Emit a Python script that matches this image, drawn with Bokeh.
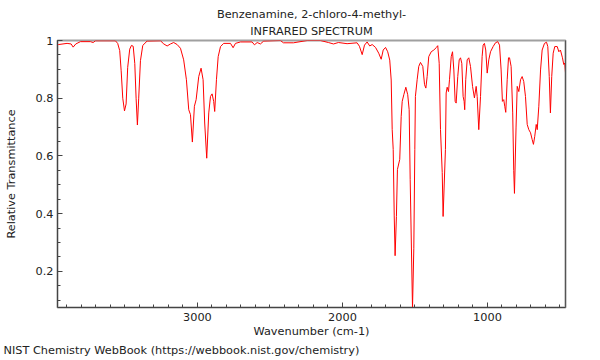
from bokeh.plotting import figure
from bokeh.models import Range1d, FixedTicker, LinearAxis, Title
from bokeh.embed import file_html
from bokeh.resources import INLINE

title_line1 = "Benzenamine, 2-chloro-4-methyl-"
title_line2 = "INFRARED SPECTRUM"
x_label = "Wavenumber (cm-1)"
y_label = "Relative Transmittance"
footer = "NIST Chemistry WebBook (https://webbook.nist.gov/chemistry)"

x_major_ticks = [1000, 2000, 3000]
y_major_ticks = [0.2, 0.4, 0.6, 0.8, 1.0]
y_tick_labels = {0.2: "0.2", 0.4: "0.4", 0.6: "0.6", 0.8: "0.8", 1.0: "1"}

wavenumber = [3965, 3957, 3899, 3871, 3857, 3839, 3807, 3738, 3719, 3703, 3566, 3550, 3536, 3526,
              3515, 3503, 3492, 3481, 3467, 3455, 3443, 3432, 3423, 3414, 3405, 3393, 3377, 3347,
              3255, 3232, 3209, 3186, 3164, 3140, 3117, 3095, 3076, 3060, 3048, 3035, 3021, 3009,
              2991, 2975, 2961, 2950, 2936, 2922, 2910, 2899, 2888, 2881, 2869, 2857, 2841, 2819,
              2772, 2754, 2738, 2703, 2623, 2607, 2588, 2566, 2543, 2428, 2407, 2338, 2243, 2152,
              2097, 2062, 2028, 1968, 1899, 1883, 1864, 1848, 1830, 1812, 1795, 1772, 1750, 1733,
              1719, 1703, 1688, 1674, 1664, 1657, 1650, 1643, 1637, 1628, 1621, 1605, 1595, 1588,
              1577, 1563, 1550, 1540, 1533, 1517, 1508, 1501, 1497, 1485, 1474, 1462, 1446, 1434,
              1425, 1416, 1405, 1388, 1370, 1352, 1343, 1333, 1324, 1312, 1306, 1290, 1285, 1278,
              1269, 1262, 1250, 1241, 1232, 1223, 1216, 1205, 1195, 1186, 1177, 1168, 1161, 1157,
              1150, 1140, 1129, 1117, 1103, 1090, 1078, 1071, 1060, 1048, 1037, 1030, 1021, 1012,
              1002, 991, 979, 961, 945, 929, 917, 906, 897, 888, 881, 874, 864, 855,
              848, 837, 826, 819, 814, 803, 795, 784, 772, 761, 750, 738, 726, 715,
              703, 692, 683, 674, 664, 657, 646, 634, 623, 607, 593, 584, 574, 566,
              557, 547, 536, 519, 508, 497, 483, 474, 467, 460]

transmittance = [0.986, 0.986, 0.99, 0.988, 0.977, 0.988, 0.996, 0.996, 0.993, 0.999, 0.999, 0.99, 0.965, 0.895,
                 0.80, 0.756, 0.78, 0.907, 0.97, 0.983, 0.98, 0.92, 0.80, 0.707, 0.80, 0.93, 0.983, 0.998,
                 0.999, 0.988, 0.981, 0.988, 0.993, 0.986, 0.973, 0.933, 0.864, 0.76, 0.743, 0.648, 0.772, 0.795,
                 0.875, 0.904, 0.864, 0.714, 0.592, 0.749, 0.806, 0.815, 0.789, 0.754, 0.864, 0.944, 0.979, 0.99,
                 0.99, 0.975, 0.99, 0.995, 0.995, 0.985, 0.993, 0.988, 0.998, 1.0, 0.992, 0.992, 1.0, 1.0,
                 0.993, 0.988, 0.993, 0.989, 0.992, 0.98, 0.951, 0.984, 0.995, 0.981, 0.986, 0.976, 0.956, 0.935,
                 0.967, 0.976, 0.961, 0.932, 0.863, 0.691, 0.622, 0.392, 0.254, 0.39, 0.553, 0.588, 0.737, 0.789,
                 0.812, 0.838, 0.812, 0.76, 0.519, 0.072, 0.278, 0.622, 0.806, 0.864, 0.91, 0.924, 0.91, 0.847,
                 0.835, 0.875, 0.944, 0.961, 0.967, 0.976, 0.982, 0.921, 0.691, 0.542, 0.39, 0.622, 0.818, 0.838,
                 0.823, 0.864, 0.944, 0.961, 0.898, 0.789, 0.783, 0.875, 0.933, 0.94, 0.921, 0.806, 0.789, 0.76,
                 0.864, 0.933, 0.94, 0.91, 0.841, 0.801, 0.841, 0.806, 0.691, 0.806, 0.944, 0.984, 0.99, 0.967,
                 0.887, 0.933, 0.961, 0.979, 0.992, 0.996, 0.984, 0.898, 0.789, 0.795, 0.772, 0.751, 0.864, 0.94,
                 0.94, 0.91, 0.749, 0.55, 0.47, 0.70, 0.841, 0.823, 0.864, 0.875, 0.858, 0.806, 0.709, 0.691,
                 0.68, 0.657, 0.64, 0.668, 0.709, 0.691, 0.772, 0.898, 0.967, 0.99, 0.994, 0.979, 0.875, 0.749,
                 0.875, 0.956, 0.979, 0.979, 0.961, 0.967, 0.94, 0.917, 0.922, 0.875]

FONT = "DejaVu Sans"
FS = "11.3px"
TXT = "#222222"
W, H = 600, 360
ML, MR, MT, MB = 57, 35, 40, 53

p = figure(width=W, height=H, output_backend="svg", toolbar_location=None,
           x_range=Range1d(3965, 462), y_range=Range1d(0.0745, 1.0),
           x_axis_location=None, y_axis_location=None, title_location=None,
           min_border_left=ML, min_border_right=MR, min_border_top=MT, min_border_bottom=MB)
p.grid.visible = False
p.outline_line_color = "#a0a0a0"
p.outline_line_width = 2
p.background_fill_color = "white"
p.border_fill_color = "white"

AX = "#444444"
xa = LinearAxis(ticker=FixedTicker(ticks=x_major_ticks, minor_ticks=list(range(500, 4000, 100))),
                axis_label=x_label)
ya = LinearAxis(ticker=FixedTicker(ticks=y_major_ticks,
                                   minor_ticks=[round(0.05 * i, 2) for i in range(1, 21)]),
                major_label_overrides=y_tick_labels, axis_label=y_label)
for ax in (xa, ya):
    ax.axis_line_color = AX
    ax.major_tick_line_color = AX
    ax.minor_tick_line_color = AX
    ax.major_tick_in = 5
    ax.major_tick_out = 0
    ax.minor_tick_in = 3
    ax.minor_tick_out = 0
    ax.major_label_text_font = FONT
    ax.major_label_text_font_size = FS
    ax.major_label_text_color = TXT
    ax.major_label_standoff = 5
    ax.axis_label_text_font = FONT
    ax.axis_label_text_font_size = FS
    ax.axis_label_text_font_style = "normal"
    ax.axis_label_text_color = TXT
xa.axis_label_standoff = 1
ya.major_label_standoff = 4
ya.axis_label_standoff = 15
p.add_layout(xa, "below")
p.add_layout(ya, "left")

rb = LinearAxis(axis_line_color="#555555", axis_line_width=1,
                major_tick_line_color=None, minor_tick_line_color=None,
                major_label_text_color=None, major_label_text_font_size="1px")
p.add_layout(rb, "right")

p.line(wavenumber, transmittance, line_color="#ff0000", line_width=1)

def mk_title(text, standoff, align="center", offset=0):
    return Title(text=text, text_font=FONT, text_font_size=FS, text_font_style="normal",
                 text_color=TXT, align=align, standoff=standoff, offset=offset)

p.add_layout(mk_title(title_line2, 5), "above")
p.add_layout(mk_title(title_line1, 0), "above")
p.add_layout(mk_title(footer, 3, align="left", offset=-54), "below")

open("out.html", "w").write(file_html(p, INLINE))
